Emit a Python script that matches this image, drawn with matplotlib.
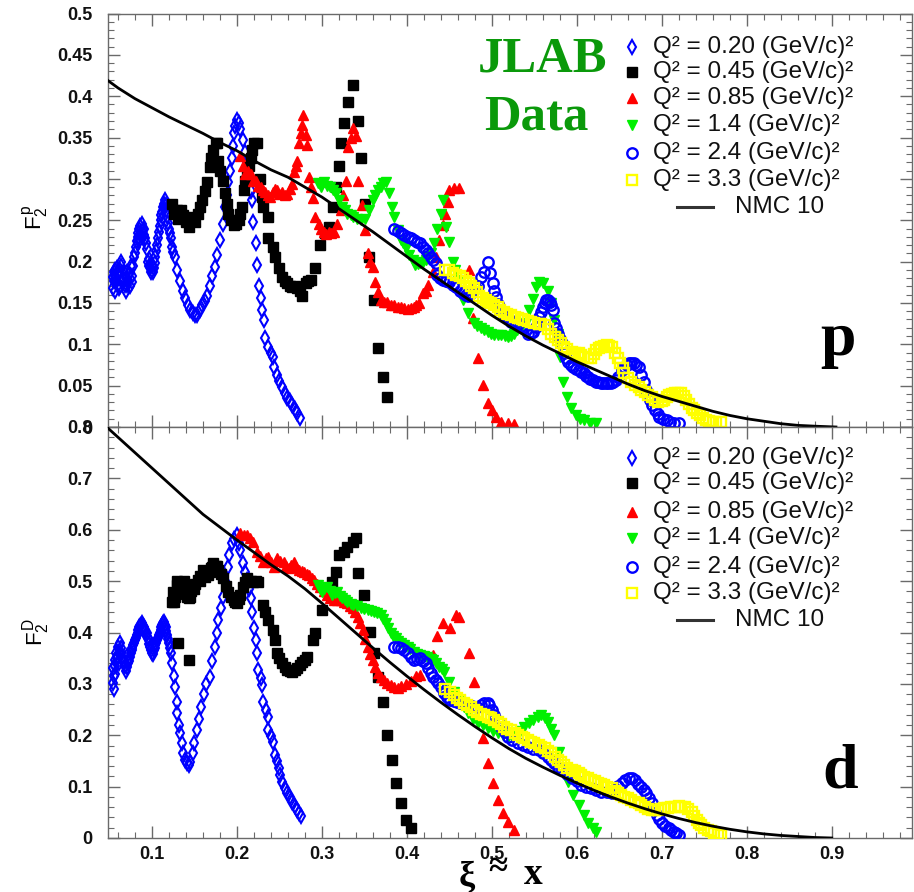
import numpy as np
import matplotlib
matplotlib.use("Agg")
import matplotlib.pyplot as plt
from matplotlib.lines import Line2D
from matplotlib.ticker import MultipleLocator, FuncFormatter

# ---------------------------------------------------------------
# F2 structure functions in the resonance region, (xi, F2) pairs
# ---------------------------------------------------------------
q2_labels = ["0.20", "0.45", "0.85", "1.4", "2.4", "3.3"]

# proton
p_q020 = [(0.054,0.181),(0.054,0.168),(0.055,0.176),(0.055,0.188),(0.056,0.190),(0.057,0.165),(0.057,0.182),
          (0.058,0.175),(0.059,0.192),(0.060,0.185),(0.060,0.172),(0.061,0.168),(0.062,0.170),(0.062,0.190),
          (0.063,0.200),(0.064,0.195),(0.065,0.175),(0.066,0.180),(0.067,0.188),(0.068,0.172),(0.069,0.165),
          (0.069,0.180),(0.070,0.188),(0.071,0.172),(0.072,0.178),(0.073,0.185),(0.074,0.170),(0.075,0.195),
          (0.076,0.183),(0.077,0.175),(0.078,0.195),(0.079,0.205),(0.080,0.210),(0.081,0.218),(0.082,0.225),
          (0.083,0.230),(0.084,0.235),(0.085,0.225),(0.085,0.240),(0.086,0.243),(0.087,0.232),(0.088,0.246),
          (0.089,0.238),(0.090,0.240),(0.091,0.232),(0.092,0.228),(0.093,0.222),(0.094,0.215),(0.095,0.200),
          (0.096,0.203),(0.097,0.195),(0.098,0.193),(0.099,0.188),(0.100,0.195),(0.101,0.187),(0.102,0.192),
          (0.103,0.198),(0.104,0.205),(0.105,0.213),(0.106,0.220),(0.107,0.228),(0.108,0.236),(0.109,0.243),
          (0.110,0.250),(0.111,0.256),(0.112,0.260),(0.113,0.266),(0.114,0.270),(0.115,0.274),(0.116,0.268),
          (0.117,0.262),(0.118,0.255),(0.119,0.247),(0.120,0.240),(0.121,0.234),(0.122,0.228),(0.124,0.218),
          (0.125,0.212),(0.127,0.205),(0.130,0.190),(0.133,0.176),(0.136,0.165),(0.139,0.156),(0.142,0.148),
          (0.145,0.142),(0.148,0.138),(0.151,0.135),(0.153,0.136),(0.156,0.142),(0.159,0.147),(0.162,0.152),
          (0.165,0.158),(0.168,0.170),(0.171,0.182),(0.174,0.193),(0.177,0.208),(0.180,0.226),(0.183,0.246),
          (0.186,0.266),(0.188,0.281),(0.190,0.296),(0.192,0.310),(0.194,0.325),(0.195,0.340),(0.196,0.355),
          (0.198,0.364),(0.200,0.371),(0.202,0.368),(0.204,0.360),(0.207,0.347),(0.210,0.333),(0.212,0.319),
          (0.213,0.298),(0.216,0.285),(0.218,0.274),(0.219,0.248),(0.222,0.223),(0.223,0.196),(0.226,0.171),
          (0.228,0.156),(0.230,0.141),(0.232,0.129),(0.233,0.108),(0.237,0.097),(0.240,0.090),(0.242,0.085),
          (0.244,0.073),(0.247,0.063),(0.250,0.056),(0.253,0.048),(0.256,0.041),(0.259,0.035),(0.262,0.031),
          (0.265,0.027),(0.268,0.022),(0.271,0.017),(0.274,0.011)]

p_q045 = [(0.124,0.270),(0.126,0.258),(0.129,0.262),(0.131,0.252),(0.134,0.262),(0.137,0.256),(0.140,0.248),
          (0.143,0.242),(0.146,0.250),(0.148,0.254),(0.151,0.248),(0.154,0.258),(0.157,0.266),(0.159,0.274),
          (0.162,0.285),(0.165,0.296),(0.168,0.314),(0.170,0.325),(0.172,0.335),(0.175,0.343),(0.177,0.343),
          (0.178,0.322),(0.180,0.310),(0.183,0.298),(0.186,0.283),(0.188,0.270),(0.190,0.258),(0.193,0.250),
          (0.196,0.244),(0.199,0.246),(0.202,0.250),(0.204,0.258),(0.206,0.266),(0.208,0.286),(0.210,0.297),
          (0.212,0.308),(0.214,0.316),(0.216,0.325),(0.218,0.335),(0.220,0.344),(0.224,0.344),(0.227,0.300),
          (0.230,0.278),(0.231,0.266),(0.236,0.254),(0.237,0.229),(0.242,0.218),(0.245,0.206),(0.249,0.192),
          (0.253,0.181),(0.256,0.176),(0.259,0.174),(0.262,0.170),(0.265,0.169),(0.268,0.170),(0.271,0.168),
          (0.274,0.165),(0.277,0.159),(0.281,0.174),(0.284,0.176),(0.287,0.178),(0.292,0.192),(0.298,0.220),
          (0.304,0.234),(0.308,0.242),(0.313,0.266),(0.316,0.290),(0.320,0.316),(0.322,0.344),(0.326,0.368),
          (0.331,0.393),(0.336,0.413),(0.343,0.370),(0.346,0.325),(0.351,0.270),(0.355,0.206),(0.361,0.153),
          (0.366,0.095),(0.372,0.060),(0.376,0.036)]

p_q085 = [(0.204,0.328),(0.207,0.316),(0.210,0.306),(0.213,0.310),(0.216,0.306),(0.219,0.298),(0.222,0.298),
          (0.225,0.292),(0.228,0.290),(0.231,0.286),(0.233,0.284),(0.236,0.280),(0.239,0.278),(0.242,0.284),
          (0.245,0.288),(0.247,0.286),(0.250,0.282),(0.253,0.284),(0.256,0.280),(0.259,0.282),(0.262,0.288),
          (0.265,0.294),(0.267,0.308),(0.269,0.316),(0.271,0.322),(0.273,0.343),(0.275,0.355),(0.277,0.365),
          (0.278,0.377),(0.281,0.353),(0.283,0.341),(0.285,0.302),(0.287,0.290),(0.289,0.277),(0.292,0.254),
          (0.296,0.246),(0.299,0.240),(0.302,0.236),(0.305,0.233),(0.308,0.236),(0.311,0.234),(0.314,0.236),
          (0.318,0.246),(0.322,0.262),(0.325,0.280),(0.328,0.298),(0.331,0.338),(0.334,0.350),(0.337,0.361),
          (0.340,0.352),(0.343,0.298),(0.347,0.268),(0.351,0.238),(0.354,0.210),(0.357,0.200),(0.360,0.193),
          (0.363,0.175),(0.366,0.163),(0.369,0.153),(0.373,0.151),(0.377,0.151),(0.381,0.148),(0.385,0.147),
          (0.389,0.145),(0.393,0.145),(0.397,0.144),(0.401,0.143),(0.405,0.144),(0.408,0.145),(0.411,0.147),
          (0.414,0.150),(0.419,0.162),(0.422,0.165),(0.425,0.172),(0.431,0.187),(0.434,0.205),(0.438,0.226),
          (0.442,0.244),(0.445,0.258),(0.448,0.272),(0.450,0.286),(0.455,0.289),(0.461,0.289),(0.473,0.190),
          (0.478,0.132),(0.484,0.083),(0.490,0.051),(0.495,0.029),(0.500,0.020),(0.505,0.012),(0.511,0.006),
          (0.519,0.005),(0.526,0.004)]

p_q140 = [(0.295,0.295),(0.299,0.290),(0.302,0.296),(0.306,0.292),(0.310,0.290),(0.313,0.286),(0.316,0.283),
          (0.320,0.274),(0.324,0.266),(0.327,0.262),(0.330,0.258),(0.334,0.256),(0.337,0.254),(0.341,0.252),
          (0.346,0.250),(0.351,0.252),(0.355,0.262),(0.360,0.274),(0.363,0.280),(0.366,0.286),(0.369,0.290),
          (0.372,0.295),(0.375,0.296),(0.379,0.283),(0.383,0.266),(0.385,0.254),(0.389,0.238),(0.393,0.226),
          (0.396,0.222),(0.399,0.217),(0.402,0.208),(0.407,0.202),(0.410,0.196),(0.413,0.197),(0.416,0.198),
          (0.419,0.200),(0.422,0.202),(0.425,0.206),(0.428,0.210),(0.432,0.222),(0.436,0.240),(0.440,0.258),
          (0.442,0.274),(0.446,0.242),(0.450,0.224),(0.454,0.200),(0.457,0.190),(0.460,0.178),(0.466,0.153),
          (0.472,0.138),(0.479,0.126),(0.483,0.122),(0.487,0.120),(0.491,0.117),(0.495,0.115),(0.499,0.113),
          (0.503,0.111),(0.507,0.111),(0.511,0.111),(0.515,0.110),(0.519,0.109),(0.523,0.110),(0.526,0.113),
          (0.530,0.117),(0.534,0.120),(0.540,0.126),(0.544,0.141),(0.548,0.155),(0.552,0.169),(0.555,0.175),
          (0.560,0.174),(0.566,0.165),(0.570,0.150),(0.573,0.129),(0.578,0.113),(0.580,0.085),(0.584,0.054),
          (0.588,0.036),(0.593,0.023),(0.599,0.014),(0.604,0.010),(0.608,0.008),(0.615,0.005),(0.623,0.005)]

p_q240 = [(0.385,0.240),(0.389,0.237),(0.393,0.234),(0.397,0.232),(0.401,0.230),(0.405,0.228),(0.408,0.226),
          (0.412,0.224),(0.416,0.222),(0.419,0.218),(0.422,0.214),(0.425,0.210),(0.428,0.206),(0.431,0.202),
          (0.434,0.198),(0.436,0.184),(0.439,0.180),(0.442,0.178),(0.446,0.176),(0.450,0.175),(0.454,0.172),
          (0.458,0.169),(0.462,0.165),(0.466,0.162),(0.469,0.160),(0.472,0.159),(0.475,0.162),(0.478,0.165),
          (0.481,0.168),(0.484,0.171),(0.487,0.181),(0.491,0.187),(0.495,0.200),(0.498,0.186),(0.501,0.174),
          (0.503,0.165),(0.505,0.157),(0.507,0.149),(0.511,0.141),(0.514,0.137),(0.517,0.133),(0.520,0.130),
          (0.523,0.127),(0.527,0.126),(0.531,0.125),(0.534,0.122),(0.537,0.120),(0.540,0.117),(0.543,0.113),
          (0.546,0.114),(0.549,0.115),(0.552,0.121),(0.554,0.127),(0.556,0.133),(0.558,0.139),(0.560,0.145),
          (0.562,0.150),(0.564,0.153),(0.566,0.153),(0.568,0.151),(0.570,0.147),(0.572,0.141),(0.573,0.126),
          (0.576,0.120),(0.578,0.113),(0.580,0.107),(0.582,0.101),(0.585,0.089),(0.587,0.084),(0.590,0.079),
          (0.593,0.075),(0.596,0.072),(0.599,0.070),(0.602,0.069),(0.605,0.067),(0.608,0.065),(0.611,0.062),
          (0.613,0.060),(0.616,0.058),(0.619,0.057),(0.622,0.055),(0.625,0.054),(0.628,0.053),(0.631,0.053),
          (0.634,0.053),(0.637,0.053),(0.640,0.053),(0.643,0.054),(0.646,0.057),(0.649,0.060),(0.653,0.069),
          (0.656,0.072),(0.659,0.075),(0.661,0.077),(0.664,0.077),(0.667,0.077),(0.670,0.075),(0.673,0.072),
          (0.676,0.063),(0.679,0.054),(0.682,0.045),(0.686,0.033),(0.689,0.027),(0.692,0.021),(0.695,0.016),
          (0.697,0.012),(0.701,0.010),(0.706,0.008),(0.710,0.006),(0.714,0.005),(0.720,0.005)]

p_q330 = [(0.445,0.190),(0.450,0.190),(0.454,0.186),(0.458,0.184),(0.462,0.182),(0.466,0.180),(0.470,0.177),
          (0.473,0.174),(0.476,0.171),(0.479,0.168),(0.482,0.163),(0.485,0.159),(0.489,0.156),(0.493,0.153),
          (0.496,0.151),(0.499,0.150),(0.503,0.147),(0.507,0.145),(0.510,0.142),(0.514,0.139),(0.518,0.137),
          (0.523,0.135),(0.527,0.133),(0.531,0.132),(0.535,0.130),(0.538,0.129),(0.542,0.128),(0.546,0.127),
          (0.550,0.126),(0.555,0.125),(0.558,0.124),(0.562,0.123),(0.566,0.118),(0.570,0.113),(0.574,0.109),
          (0.578,0.105),(0.581,0.101),(0.585,0.097),(0.589,0.094),(0.594,0.091),(0.598,0.090),(0.602,0.089),
          (0.605,0.087),(0.609,0.085),(0.613,0.084),(0.617,0.083),(0.620,0.088),(0.623,0.093),(0.626,0.095),
          (0.629,0.097),(0.632,0.098),(0.635,0.099),(0.638,0.098),(0.641,0.097),(0.645,0.089),(0.648,0.083),
          (0.651,0.077),(0.654,0.071),(0.656,0.065),(0.660,0.059),(0.664,0.054),(0.668,0.051),(0.673,0.048),
          (0.676,0.045),(0.680,0.042),(0.684,0.039),(0.688,0.036),(0.692,0.033),(0.696,0.030),(0.700,0.031),
          (0.703,0.033),(0.706,0.036),(0.709,0.039),(0.712,0.040),(0.715,0.041),(0.719,0.041),(0.723,0.041),
          (0.726,0.037),(0.729,0.033),(0.732,0.028),(0.735,0.023),(0.738,0.020),(0.741,0.017),(0.745,0.014),
          (0.749,0.011),(0.752,0.009),(0.756,0.007),(0.760,0.006),(0.764,0.006),(0.770,0.006)]

# deuteron
d_q020 = [(0.054,0.302),(0.054,0.330),(0.055,0.290),(0.055,0.315),(0.056,0.347),(0.057,0.320),(0.057,0.335),
          (0.058,0.360),(0.059,0.350),(0.060,0.372),(0.061,0.340),(0.061,0.360),(0.062,0.380),(0.063,0.370),
          (0.064,0.360),(0.065,0.352),(0.066,0.345),(0.067,0.340),(0.068,0.335),(0.069,0.325),(0.070,0.333),
          (0.071,0.355),(0.072,0.340),(0.073,0.345),(0.074,0.352),(0.075,0.360),(0.076,0.365),(0.077,0.370),
          (0.078,0.375),(0.079,0.380),(0.080,0.385),(0.081,0.390),(0.082,0.395),(0.083,0.400),(0.084,0.405),
          (0.085,0.410),(0.086,0.412),(0.087,0.415),(0.088,0.418),(0.089,0.412),(0.090,0.410),(0.091,0.405),
          (0.092,0.405),(0.093,0.395),(0.094,0.399),(0.095,0.390),(0.096,0.385),(0.097,0.378),(0.098,0.372),
          (0.099,0.365),(0.100,0.360),(0.101,0.358),(0.102,0.365),(0.103,0.370),(0.104,0.375),(0.105,0.380),
          (0.106,0.385),(0.107,0.390),(0.108,0.395),(0.109,0.400),(0.110,0.405),(0.111,0.410),(0.112,0.415),
          (0.113,0.418),(0.114,0.420),(0.115,0.415),(0.116,0.410),(0.117,0.402),(0.118,0.395),(0.119,0.388),
          (0.120,0.380),(0.121,0.370),(0.122,0.360),(0.124,0.341),(0.126,0.315),(0.127,0.294),(0.129,0.265),
          (0.130,0.243),(0.132,0.220),(0.133,0.204),(0.135,0.185),(0.137,0.165),(0.139,0.152),(0.141,0.146),
          (0.143,0.142),(0.145,0.148),(0.148,0.165),(0.150,0.185),(0.153,0.210),(0.155,0.232),(0.158,0.255),
          (0.161,0.280),(0.164,0.300),(0.168,0.313),(0.171,0.345),(0.174,0.372),(0.176,0.400),(0.178,0.424),
          (0.181,0.447),(0.184,0.469),(0.186,0.500),(0.189,0.528),(0.191,0.550),(0.194,0.574),(0.197,0.582),
          (0.200,0.590),(0.202,0.575),(0.204,0.561),(0.207,0.535),(0.210,0.518),(0.212,0.502),(0.214,0.485),
          (0.216,0.467),(0.218,0.440),(0.220,0.409),(0.222,0.385),(0.223,0.360),(0.225,0.327),(0.228,0.312),
          (0.230,0.298),(0.231,0.265),(0.234,0.250),(0.236,0.236),(0.237,0.210),(0.240,0.198),(0.242,0.187),
          (0.245,0.162),(0.247,0.149),(0.249,0.136),(0.251,0.122),(0.253,0.109),(0.256,0.098),(0.259,0.088),
          (0.262,0.079),(0.265,0.070),(0.268,0.062),(0.271,0.055),(0.273,0.049),(0.275,0.043)]

d_q045 = [(0.131,0.380),(0.144,0.346),(0.124,0.459),(0.125,0.479),(0.126,0.460),(0.127,0.470),(0.128,0.475),
          (0.129,0.492),(0.130,0.500),(0.132,0.485),(0.133,0.490),(0.135,0.498),(0.136,0.480),(0.137,0.488),
          (0.138,0.500),(0.139,0.479),(0.141,0.470),(0.142,0.475),(0.143,0.467),(0.145,0.470),(0.146,0.480),
          (0.148,0.489),(0.150,0.485),(0.151,0.495),(0.154,0.502),(0.156,0.500),(0.157,0.510),(0.160,0.522),
          (0.162,0.508),(0.163,0.515),(0.165,0.520),(0.166,0.512),(0.168,0.518),(0.169,0.525),(0.171,0.528),
          (0.172,0.535),(0.174,0.525),(0.175,0.530),(0.177,0.530),(0.178,0.522),(0.181,0.514),(0.184,0.506),
          (0.187,0.490),(0.190,0.479),(0.193,0.470),(0.196,0.463),(0.198,0.460),(0.200,0.457),(0.202,0.465),
          (0.204,0.473),(0.207,0.489),(0.210,0.498),(0.212,0.506),(0.216,0.500),(0.219,0.498),(0.222,0.500),
          (0.225,0.498),(0.231,0.454),(0.233,0.440),(0.237,0.424),(0.242,0.405),(0.245,0.385),(0.247,0.360),
          (0.250,0.350),(0.253,0.341),(0.256,0.333),(0.259,0.327),(0.262,0.325),(0.265,0.323),(0.268,0.327),
          (0.271,0.331),(0.274,0.337),(0.277,0.343),(0.280,0.347),(0.283,0.352),(0.289,0.385),(0.292,0.399),
          (0.300,0.444),(0.308,0.479),(0.312,0.498),(0.316,0.518),(0.320,0.551),(0.326,0.557),(0.330,0.566),
          (0.336,0.576),(0.340,0.584),(0.342,0.516),(0.349,0.473),(0.357,0.401),(0.361,0.360),(0.366,0.313),
          (0.372,0.265),(0.377,0.200),(0.383,0.152),(0.387,0.107),(0.393,0.068),(0.399,0.035),(0.405,0.019)]

d_q085 = [(0.204,0.594),(0.208,0.590),(0.212,0.590),(0.215,0.583),(0.219,0.576),(0.224,0.557),(0.227,0.548),
          (0.231,0.537),(0.234,0.545),(0.237,0.547),(0.240,0.537),(0.243,0.528),(0.247,0.545),(0.251,0.540),
          (0.255,0.537),(0.258,0.530),(0.261,0.526),(0.264,0.532),(0.267,0.537),(0.270,0.528),(0.273,0.522),
          (0.276,0.520),(0.279,0.518),(0.282,0.514),(0.285,0.512),(0.288,0.507),(0.291,0.502),(0.294,0.495),
          (0.298,0.489),(0.302,0.480),(0.306,0.473),(0.310,0.468),(0.314,0.463),(0.318,0.463),(0.322,0.463),
          (0.326,0.460),(0.330,0.457),(0.333,0.452),(0.336,0.448),(0.339,0.440),(0.342,0.430),(0.345,0.418),
          (0.348,0.405),(0.351,0.388),(0.354,0.372),(0.357,0.358),(0.360,0.346),(0.363,0.333),(0.366,0.322),
          (0.369,0.313),(0.373,0.307),(0.377,0.302),(0.381,0.298),(0.385,0.294),(0.389,0.292),(0.393,0.296),
          (0.399,0.300),(0.405,0.305),(0.411,0.315),(0.416,0.318),(0.431,0.356),(0.436,0.393),(0.443,0.418),
          (0.451,0.409),(0.458,0.434),(0.461,0.430),(0.473,0.360),(0.479,0.304),(0.490,0.195),(0.495,0.146),
          (0.501,0.107),(0.507,0.074),(0.513,0.049),(0.519,0.031),(0.526,0.016)]

d_q140 = [(0.295,0.492),(0.298,0.485),(0.300,0.479),(0.303,0.485),(0.306,0.489),(0.309,0.480),(0.312,0.473),
          (0.315,0.476),(0.318,0.479),(0.321,0.472),(0.324,0.467),(0.327,0.463),(0.330,0.459),(0.334,0.456),
          (0.337,0.454),(0.341,0.451),(0.346,0.448),(0.350,0.446),(0.354,0.444),(0.358,0.442),(0.361,0.440),
          (0.365,0.438),(0.369,0.434),(0.372,0.426),(0.375,0.418),(0.378,0.408),(0.381,0.399),(0.384,0.394),
          (0.387,0.389),(0.390,0.384),(0.393,0.380),(0.397,0.376),(0.401,0.372),(0.404,0.367),(0.408,0.362),
          (0.412,0.359),(0.416,0.356),(0.420,0.354),(0.424,0.352),(0.428,0.349),(0.431,0.346),(0.434,0.340),
          (0.438,0.333),(0.441,0.328),(0.444,0.323),(0.450,0.304),(0.456,0.285),(0.462,0.268),(0.467,0.255),
          (0.472,0.243),(0.478,0.232),(0.484,0.224),(0.490,0.219),(0.495,0.214),(0.501,0.209),(0.507,0.204),
          (0.513,0.200),(0.519,0.197),(0.524,0.198),(0.528,0.200),(0.533,0.208),(0.538,0.216),(0.544,0.224),
          (0.549,0.230),(0.554,0.235),(0.558,0.239),(0.562,0.233),(0.566,0.226),(0.570,0.213),(0.573,0.200),
          (0.579,0.167),(0.590,0.109),(0.596,0.084),(0.602,0.064),(0.608,0.045),(0.613,0.029),(0.619,0.019),
          (0.623,0.012)]

d_q240 = [(0.385,0.372),(0.389,0.371),(0.393,0.370),(0.397,0.365),(0.401,0.360),(0.405,0.352),(0.408,0.346),
          (0.412,0.348),(0.416,0.350),(0.419,0.345),(0.422,0.341),(0.425,0.331),(0.428,0.321),(0.431,0.314),
          (0.434,0.308),(0.437,0.301),(0.440,0.294),(0.444,0.282),(0.447,0.275),(0.451,0.269),(0.455,0.267),
          (0.459,0.265),(0.463,0.263),(0.468,0.261),(0.472,0.259),(0.477,0.257),(0.483,0.255),(0.487,0.259),
          (0.491,0.262),(0.495,0.263),(0.497,0.259),(0.500,0.250),(0.503,0.239),(0.507,0.228),(0.511,0.216),
          (0.515,0.206),(0.519,0.197),(0.524,0.190),(0.531,0.185),(0.537,0.181),(0.543,0.177),(0.549,0.174),
          (0.555,0.171),(0.560,0.165),(0.566,0.158),(0.570,0.152),(0.573,0.146),(0.578,0.139),(0.582,0.132),
          (0.588,0.124),(0.594,0.117),(0.600,0.110),(0.605,0.103),(0.611,0.100),(0.617,0.097),(0.623,0.093),
          (0.629,0.090),(0.635,0.089),(0.641,0.088),(0.645,0.095),(0.649,0.102),(0.653,0.107),(0.657,0.113),
          (0.661,0.117),(0.665,0.116),(0.668,0.113),(0.672,0.106),(0.676,0.099),(0.679,0.094),(0.682,0.088),
          (0.685,0.078),(0.688,0.068),(0.691,0.056),(0.694,0.045),(0.697,0.037),(0.700,0.029),(0.704,0.024),
          (0.708,0.019),(0.711,0.015),(0.714,0.012),(0.717,0.009),(0.720,0.006)]

d_q330 = [(0.445,0.290),(0.451,0.284),(0.455,0.278),(0.459,0.272),(0.463,0.268),(0.467,0.263),(0.471,0.259),
          (0.475,0.255),(0.479,0.250),(0.483,0.245),(0.487,0.242),(0.491,0.239),(0.495,0.236),(0.499,0.233),
          (0.503,0.230),(0.507,0.226),(0.511,0.221),(0.514,0.216),(0.518,0.213),(0.523,0.210),(0.527,0.205),
          (0.531,0.200),(0.535,0.197),(0.538,0.195),(0.542,0.191),(0.546,0.187),(0.550,0.184),(0.555,0.181),
          (0.558,0.178),(0.562,0.175),(0.566,0.170),(0.570,0.165),(0.574,0.158),(0.578,0.152),(0.581,0.147),
          (0.585,0.142),(0.589,0.137),(0.594,0.132),(0.598,0.130),(0.602,0.127),(0.605,0.123),(0.609,0.119),
          (0.613,0.116),(0.617,0.113),(0.621,0.110),(0.625,0.107),(0.629,0.105),(0.632,0.103),(0.636,0.100),
          (0.641,0.097),(0.645,0.092),(0.649,0.088),(0.652,0.084),(0.656,0.080),(0.660,0.077),(0.664,0.074),
          (0.668,0.071),(0.673,0.068),(0.676,0.064),(0.680,0.060),(0.684,0.057),(0.688,0.055),(0.692,0.055),
          (0.696,0.055),(0.699,0.056),(0.703,0.058),(0.707,0.059),(0.711,0.060),(0.715,0.061),(0.720,0.062),
          (0.723,0.061),(0.727,0.060),(0.731,0.056),(0.735,0.051),(0.738,0.043),(0.741,0.035),(0.744,0.030),
          (0.746,0.025),(0.750,0.020),(0.754,0.016),(0.758,0.013),(0.762,0.010),(0.766,0.008),(0.770,0.006)]

# NMC 10 fit curves
p_nmc = [(0.048,0.419),(0.06,0.410),(0.08,0.397),(0.10,0.386),(0.12,0.375),(0.14,0.365),(0.16,0.355),
         (0.18,0.344),(0.20,0.334),(0.22,0.322),(0.24,0.311),(0.26,0.302),(0.28,0.290),(0.30,0.278),
         (0.32,0.264),(0.34,0.250),(0.36,0.236),(0.38,0.221),(0.40,0.206),(0.42,0.191),(0.44,0.177),
         (0.46,0.163),(0.48,0.149),(0.50,0.135),(0.52,0.122),(0.54,0.110),(0.56,0.099),(0.58,0.089),
         (0.60,0.079),(0.62,0.070),(0.64,0.061),(0.66,0.052),(0.68,0.044),(0.70,0.037),(0.72,0.031),
         (0.74,0.025),(0.76,0.019),(0.78,0.014),(0.80,0.010),(0.82,0.007),(0.84,0.004),(0.86,0.002),
         (0.88,0.001),(0.905,0.0)]

d_nmc = [(0.048,0.798),(0.06,0.780),(0.08,0.750),(0.10,0.720),(0.12,0.690),(0.14,0.660),(0.16,0.630),
         (0.18,0.605),(0.20,0.580),(0.22,0.556),(0.24,0.532),(0.26,0.510),(0.28,0.485),(0.30,0.457),
         (0.32,0.428),(0.34,0.399),(0.36,0.370),(0.38,0.342),(0.40,0.315),(0.42,0.289),(0.44,0.264),
         (0.46,0.240),(0.48,0.217),(0.50,0.195),(0.52,0.174),(0.54,0.155),(0.56,0.138),(0.58,0.122),
         (0.60,0.107),(0.62,0.093),(0.64,0.080),(0.66,0.068),(0.68,0.057),(0.70,0.047),(0.72,0.038),
         (0.74,0.030),(0.76,0.023),(0.78,0.017),(0.80,0.012),(0.82,0.008),(0.84,0.005),(0.86,0.003),
         (0.88,0.001),(0.90,0.0)]

# ---------------------------------------------------------------
W, H = 914, 892
plt.rcParams['font.family'] = ['Liberation Sans', 'DejaVu Sans']
plt.rcParams['mathtext.fontset'] = 'custom'
plt.rcParams['mathtext.rm'] = 'Liberation Sans'
plt.rcParams['mathtext.it'] = 'Liberation Sans:italic'

styles = [
    dict(marker='d', mfc='none', mec='#0000ff', ms=7.5, mew=1.5),
    dict(marker='s', mfc='#000000', mec='#000000', ms=6.8, mew=1.0),
    dict(marker='^', mfc='#ff0000', mec='#ff0000', ms=7.0, mew=1.0),
    dict(marker='v', mfc='#00f000', mec='#00f000', ms=7.0, mew=1.0),
    dict(marker='o', mfc='none', mec='#0000ff', ms=7.5, mew=1.7),
    dict(marker='s', mfc='none', mec='#ffff00', ms=7.0, mew=1.7),
]

fig = plt.figure(figsize=(W / 100, H / 100), dpi=100)
fig.patch.set_facecolor('white')


def fx(px):
    return px / W


def fy(py):
    return 1 - py / H


ax_left, ax_right = 108, 912
ax_p = fig.add_axes([fx(ax_left), fy(427), (ax_right - ax_left) / W, (427 - 13.5) / H])
ax_d = fig.add_axes([fx(ax_left), fy(838), (ax_right - ax_left) / W, (838 - 427) / H])

fmt = FuncFormatter(lambda v, pos: f"{v:g}")
xlim = (0.0482, 0.9945)

for ax, series, nmc, ymax, ymaj, ymin in [
        (ax_p, [p_q020, p_q045, p_q085, p_q140, p_q240, p_q330], p_nmc, 0.5, 0.05, 0.01),
        (ax_d, [d_q020, d_q045, d_q085, d_q140, d_q240, d_q330], d_nmc, 0.8, 0.1, 0.02)]:
    for pts, st in zip(series, styles):
        arr = np.array(pts)
        ax.plot(arr[:, 0], arr[:, 1], ls='none', zorder=3, **st)
    c = np.array(nmc)
    ax.plot(c[:, 0], c[:, 1], color='black', lw=2.0, zorder=5)
    ax.set_xlim(*xlim)
    ax.set_ylim(0, ymax)
    ax.xaxis.set_major_locator(MultipleLocator(0.1))
    ax.xaxis.set_minor_locator(MultipleLocator(0.02))
    ax.yaxis.set_major_locator(MultipleLocator(ymaj))
    ax.yaxis.set_minor_locator(MultipleLocator(ymin))
    ax.xaxis.set_major_formatter(fmt)
    ax.yaxis.set_major_formatter(fmt)
    ax.tick_params(which='both', direction='in', top=True, right=True,
                   color='#6a6a6a', labelsize=13, labelcolor='#111111')
    ax.tick_params(which='major', length=8.5, width=1.0)
    ax.tick_params(which='minor', length=4.5, width=0.8)
    ax.tick_params(axis='y', pad=11)
    ax.tick_params(axis='x', pad=6)
    for lab in ax.get_xticklabels() + ax.get_yticklabels():
        lab.set_fontweight('bold')
    for sp in ax.spines.values():
        sp.set_color('#6a6a6a')
        sp.set_linewidth(1.0)

ax_p.tick_params(labelbottom=False)

# axis titles
fig.text(fx(36), fy(217), r'$\mathrm{F_2^{\,p}}$', rotation=90, ha='center', va='center', fontsize=16)
fig.text(fx(36), fy(632), r'$\mathrm{F_2^{\,D}}$', rotation=90, ha='center', va='center', fontsize=16)

serif_bold = dict(family=['Liberation Serif', 'DejaVu Serif'], weight='bold')
fig.text(fx(467), fy(886), 'ξ', ha='center', va='baseline', fontsize=26, **serif_bold)
fig.text(fx(498), fy(867), '≈', ha='center', va='center', fontsize=25, **serif_bold)
fig.text(fx(533), fy(884), 'x', ha='center', va='baseline', fontsize=27, **serif_bold)

# panel tags
fig.text(fx(543), fy(72), 'JLAB', ha='center', va='baseline', fontsize=36.5, color='#0a990a', **serif_bold)
fig.text(fx(536), fy(130), 'Data', ha='center', va='baseline', fontsize=36.5, color='#0a990a', **serif_bold)
fig.text(fx(838), fy(355), 'p', ha='center', va='baseline', fontsize=46, color='black', **serif_bold)
fig.text(fx(840), fy(788), 'd', ha='center', va='baseline', fontsize=46, color='black', **serif_bold)

# legends
rows_p = [47, 72, 98, 125, 153, 180, 207]
rows_d = [458, 483, 512, 538, 567, 593, 620]
for rows in (rows_p, rows_d):
    for lab, st, ry in zip(q2_labels, styles, rows):
        fig.add_artist(Line2D([fx(632)], [fy(ry)], transform=fig.transFigure, ls='none', **st))
        fig.text(fx(653), fy(ry), f"Q² = {lab} (GeV/c)²", ha='left', va='center',
                 fontsize=17.5, color='#111111')
    ry = rows[-1]
    fig.add_artist(Line2D([fx(677), fx(713)], [fy(ry), fy(ry)], transform=fig.transFigure,
                          color='#333333', lw=2.2))
    fig.text(fx(735), fy(ry), 'NMC 10', ha='left', va='center', fontsize=17.5, color='#111111')

fig.savefig('out.png', dpi=100)
